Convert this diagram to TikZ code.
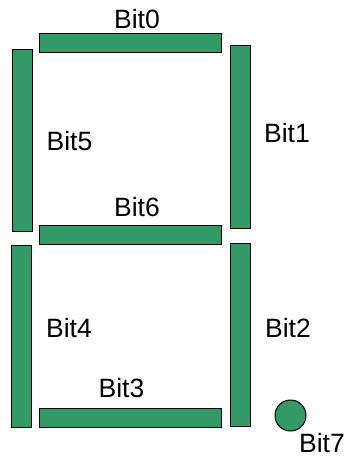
\documentclass[tikz,border=0pt]{standalone}
\usepackage{fontspec}
\setmainfont{Liberation Sans}
\definecolor{segGreen}{HTML}{339966}
\begin{document}
\begin{tikzpicture}[x=1pt,y=-1pt,
  hbar/.style={draw=black,fill=segGreen,line width=1pt,rectangle,minimum width=182pt,minimum height=19pt,inner sep=0pt,outer sep=0pt},
  vbar/.style={draw=black,fill=segGreen,line width=1pt,rectangle,minimum width=20pt,minimum height=182pt,inner sep=0pt,outer sep=0pt},
  dot/.style={draw=black,fill=segGreen,line width=1pt,circle,minimum size=31pt,inner sep=0pt,outer sep=0pt},
  lbl/.style={anchor=base,inner sep=0pt,font=\fontsize{26.5}{30}\selectfont}]
\useasboundingbox (0,0) rectangle (345,458);
\node[hbar] (s0) at (130,42.5) {};
\node[vbar] (s5) at (22,140) {};
\node[vbar,minimum height=183pt] (s1) at (240,136.5) {};
\node[hbar] (s6) at (130,234.5) {};
\node[vbar] (s4) at (21,336) {};
\node[vbar,minimum height=183pt] (s2) at (240,334.5) {};
\node[hbar] (s3) at (130,417.5) {};
\node[dot] (s7) at (290.5,415.5) {};
\node[lbl] (l0) at (137,28) {Bit0};
\node[lbl] (l5) at (69.5,150) {Bit5};
\node[lbl] (l1) at (287,142) {Bit1};
\node[lbl] (l6) at (137,216) {Bit6};
\node[lbl] (l4) at (69,337) {Bit4};
\node[lbl] (l2) at (288,337) {Bit2};
\node[lbl] (l3) at (121.5,397) {Bit3};
\node[lbl] (l7) at (322,452) {Bit7};
\end{tikzpicture}
\end{document}
